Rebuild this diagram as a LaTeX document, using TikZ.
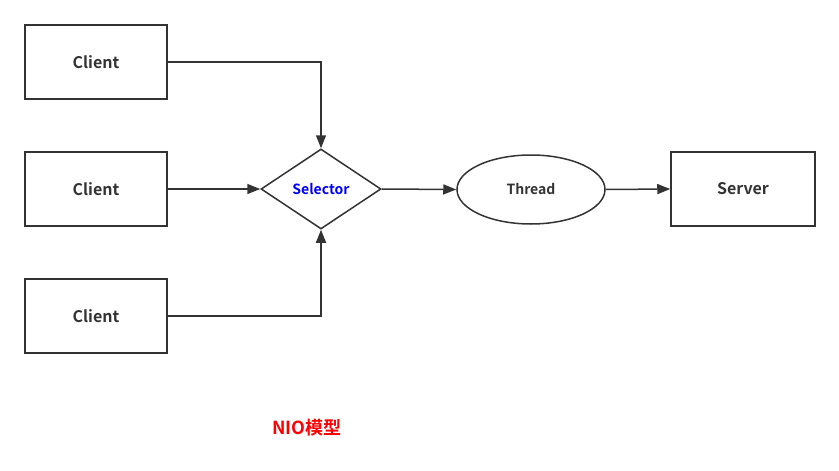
\documentclass[tikz,border=0pt]{standalone}
\usepackage{fontspec}
\setmainfont{Noto Sans CJK SC}[BoldFont={* Bold}]
\newfontfamily\cjk{Noto Sans CJK SC}[BoldFont={* Bold}]
\usetikzlibrary{shapes.geometric,arrows.meta}
\definecolor{ln}{HTML}{333333}
\newcommand{\dn}[1]{\raisebox{-2pt}{#1}}
\begin{document}
\begin{tikzpicture}[x=1pt,y=-1pt,
  box/.style={draw=ln,line width=1.5pt,minimum width=142pt,minimum height=74pt,inner sep=0pt,font=\fontsize{16}{18}\selectfont\bfseries,text=ln},
  conn/.style={draw=ln,line width=1.5pt,-{Triangle[length=13pt,width=10pt]}}]
\useasboundingbox (0,0) rectangle (839,471);
\node[box] (c1) at (96,62) {\dn{Client}};
\node[box] (c2) at (96,189) {\dn{Client}};
\node[box] (c3) at (96,316) {\dn{Client}};
\node[draw=ln,line width=1.5pt,diamond,aspect=1.5,minimum width=120pt,minimum height=80pt,inner sep=0pt,font=\fontsize{14}{16}\selectfont\bfseries,text=blue] (sel) at (321,189) {\dn{Selector}};
\node[draw=ln,line width=1.5pt,ellipse,minimum width=148pt,minimum height=69pt,inner sep=0pt,font=\fontsize{14}{16}\selectfont\bfseries,text=ln] (th) at (531,189.5) {\dn{Thread}};
\node[box,minimum width=144pt] (sv) at (743,189) {\dn{Server}};
\node[font=\fontsize{18}{20}\selectfont\bfseries\cjk,text=red] (lbl) at (307,428) {NIO模型};
\draw[conn] (c1.east) -| (sel.north);
\draw[conn] (c2.east) -- (sel.west);
\draw[conn] (c3.east) -| (sel.south);
\draw[conn] (sel.east) -- (th.west);
\draw[conn] (th.east) -- (sv.west);
\end{tikzpicture}
\end{document}
